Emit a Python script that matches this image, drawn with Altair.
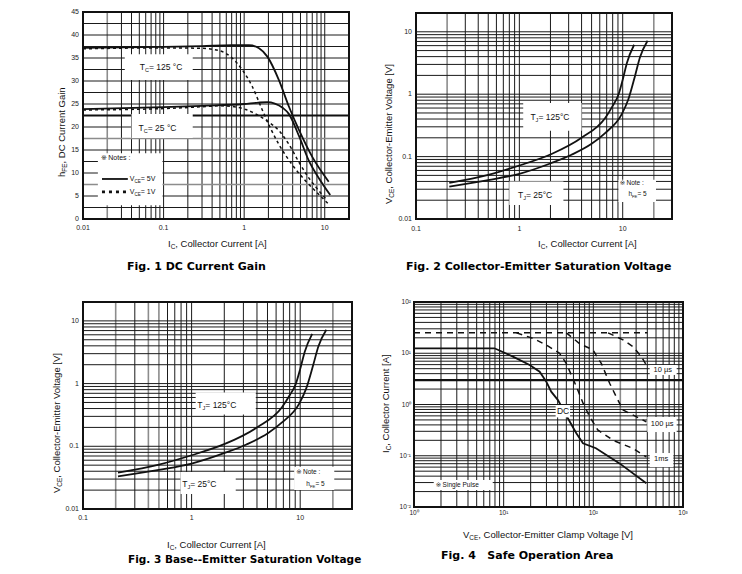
import altair as alt
import pandas as pd

CHART_W, CHART_H = 742, 574
SANS = "Liberation Sans, Noto Sans CJK JP, sans-serif"
MARK_FONT = "DejaVu Sans"
HEAVY = "DejaVu Sans"
INK = "#111111"
NBSP = "\u00a0"

# ---------------- Fig. 1 : DC current gain (hFE vs Ic) ----------------
HFE_IC_125_5V = [0.01, 0.1, 0.3, 0.7, 1.15, 1.53, 1.94, 2.7, 3.6, 4.8, 7.0, 11.2]
HFE_125_5V = [37.2, 37.4, 37.6, 37.8, 37.8, 37.1, 35.3, 30.2, 24.4, 19.3, 13.5, 8.1]
HFE_IC_25_5V = [0.01, 0.1, 0.3, 1.0, 1.5, 1.94, 2.4, 3.0, 3.6, 4.8, 6.3, 8.5, 11.7]
HFE_25_5V = [23.9, 24.3, 24.6, 25.0, 25.3, 25.4, 25.1, 24.2, 22.8, 18.0, 12.8, 8.8, 5.2]
HFE_IC_125_1V = [0.01, 0.1, 0.3, 0.49, 0.72, 0.95, 1.26, 1.68, 2.14, 2.7, 3.95, 5.76, 8.4, 11.5]
HFE_125_1V = [37.0, 37.2, 37.1, 36.6, 34.9, 32.4, 28.8, 23.7, 19.6, 16.2, 11.8, 8.3, 5.4, 3.0]
HFE_IC_25_1V = [0.01, 0.1, 0.3, 0.5, 0.75, 1.05, 1.4, 1.85, 2.7, 3.6, 4.8, 6.3, 8.4, 10.5]
HFE_25_1V = [23.7, 24.0, 24.4, 24.6, 24.4, 23.8, 22.8, 21.5, 19.2, 16.2, 12.3, 9.0, 6.2, 4.2]

# ---------------- Fig. 2 / Fig. 3 : saturation voltage (Vce vs Ic) ----------------
VCE_IC_125 = [0.21, 0.5, 1.0, 2.05, 4.0, 6.8, 8.0, 9.1, 10.0, 11.0, 12.9]
VCE_125 = [0.038, 0.051, 0.072, 0.11, 0.2, 0.42, 0.65, 0.98, 1.7, 3.2, 6.2]
VCE_IC_25 = [0.21, 0.5, 1.0, 2.05, 3.2, 5.0, 6.8, 9.8, 11.35, 13.2, 14.7, 17.4]
VCE_25 = [0.033, 0.042, 0.053, 0.079, 0.107, 0.16, 0.24, 0.48, 0.83, 2.0, 3.9, 7.2]

# ---------------- Fig. 4 : safe operating area ----------------
SOA_V_LIMIT = [1, 400]
SOA_I_LIMIT = [25, 25]
SOA_V_DC = [1, 7.9, 12.7, 19.5, 25.2, 29.9, 33.9, 40.3, 52, 64.6, 76.6, 107, 196, 390]
SOA_I_DC = [12.5, 12.5, 8.6, 5.9, 4.37, 2.79, 1.78, 1.22, 0.54, 0.275, 0.175, 0.14, 0.071, 0.029]
SOA_V_1MS = [13.9, 21.2, 29.9, 42, 50, 65, 77, 91, 112, 166, 275, 390]
SOA_I_1MS = [25, 19.5, 14.5, 10, 6.3, 2.2, 1.05, 0.58, 0.32, 0.2, 0.14, 0.095]
SOA_V_100US = [50, 70, 99, 123, 152, 180, 214, 300, 390]
SOA_I_100US = [25, 15.5, 11.6, 6.3, 2.6, 1.42, 0.78, 0.58, 0.46]
SOA_V_10US = [146, 214, 276, 343, 390]
SOA_I_10US = [25, 18.3, 13.5, 8.6, 5.9]

# ---------------- tick labels ----------------
F1_X_TICKS = [0.01, 0.1, 1, 10]
F1_Y_TICKS = [0, 5, 10, 15, 20, 25, 30, 35, 40, 45]
F2_X_TICKS = [0.1, 1, 10]
F2_Y_TICKS = [0.01, 0.1, 1, 10]
F4_X_TICKS = [1, 10, 100, 1000]
F4_X_LABELS = ["10⁰", "10¹", "10²", "10³"]
F4_Y_TICKS = [0.01, 0.1, 1, 10, 100]
F4_Y_LABELS = ["10⁻²", "10⁻¹", "10⁰", "10¹", "10²"]

# ---------------- panel geometry (pixel ranges of each plot area) ----------------
P1_X, P1_Y = [83, 349], [219, 12]
P2_X, P2_Y = [416, 672], [219, 13]
P3_X, P3_Y = [83, 352], [509, 302]
P4_X, P4_Y = [414, 683], [507, 302]

ONE = pd.DataFrame({"k": [0]})

# Arial-compatible advance widths (1/1000 em) used to chain text runs
ADV = {" ": 278, NBSP: 278, ",": 278, ".": 278, ":": 278, "-": 333, "=": 584, "[": 278,
       "]": 278, "°": 400, "µ": 576, "※": 1050, "A": 667, "C": 722, "D": 722, "E": 667,
       "F": 611, "G": 778, "I": 278, "J": 500, "S": 667, "T": 611, "V": 667, "P": 667,
       "a": 556, "c": 500, "e": 556, "g": 556, "h": 556, "i": 222, "l": 222, "m": 833,
       "n": 556, "o": 556, "p": 556, "r": 333, "s": 500, "t": 278, "u": 556, "v": 500}
for _d in "0123456789":
    ADV[_d] = 556


def text_width(s, size):
    return sum(ADV.get(ch, 556) for ch in s) * size / 1000.0


def rich(base, parts, angle=0, anchor="left"):
    """Chain runs of (text, size, baseline shift[, font]) so subscripts follow their letter."""
    total = sum(text_width(p[0], p[1]) for p in parts)
    offset = -total / 2 if anchor == "center" else 0.0
    layers = []
    for part in parts:
        txt, size, shift = part[:3]
        font = part[3] if len(part) > 3 else SANS
        layers.append(base.mark_text(text=txt.strip(), font=font, fontSize=size,
                                     color=INK, align="left", baseline="middle",
                                     angle=angle, dx=offset, dy=shift))
        offset += text_width(txt, size)
    return layers


def note(text, size=7):
    return [("※", size, 0, MARK_FONT), (text, size, 0)]


def log_values(lo, hi):
    vals = [float(f"{k}e{e}") for e in range(lo, hi) for k in range(1, 10)]
    vals.append(float(f"1e{hi}"))
    return vals


def grid_frame(values, heavy=(), light=()):
    rows = []
    for v in values:
        if any(abs(v - h) < 1e-9 for h in heavy):
            w, c = 2.2, INK
        elif any(abs(v - g) < 1e-9 for g in light):
            w, c = 1.6, "#8c8c8c"
        else:
            w, c = 1.0, "#1a1a1a"
        rows.append({"v": v, "w": w, "c": c})
    return pd.DataFrame(rows)


def lines_frame(series):
    rows = []
    for name, xv, yv in series:
        rows += [{"s": name, "x": a, "y": b} for a, b in zip(xv, yv)]
    return pd.DataFrame(rows)


def tick_labels(xs, ys, xdom, ydom, xticks, yticks, xlabels=None, ylabels=None,
                xpad=5, ypad=4, size=7):
    xl = xlabels or [f"{v:g}" for v in xticks]
    yl = ylabels or [f"{v:g}" for v in yticks]
    bottom = alt.Chart(pd.DataFrame({"v": xticks, "t": xl})).mark_text(
        font=SANS, fontSize=size, color="#222222", align="center", baseline="top", dy=xpad
    ).encode(x=alt.X("v:Q", scale=xs, axis=None),
             y=alt.YDatum(datum=ydom[0], type="quantitative", scale=ys, axis=None),
             text="t:N")
    left = alt.Chart(pd.DataFrame({"v": yticks, "t": yl})).mark_text(
        font=SANS, fontSize=size, color="#222222", align="right", baseline="middle", dx=-ypad
    ).encode(y=alt.Y("v:Q", scale=ys, axis=None),
             x=alt.XDatum(datum=xdom[0], type="quantitative", scale=xs, axis=None),
             text="t:N")
    return [bottom, left]


def panel(xs, ys, xdom, ydom, xgrid, ygrid, solid, dashed, dash, boxes, texts, ticks,
          interp="monotone", extra=()):
    vgrid = alt.Chart(xgrid).mark_rule().encode(
        x=alt.X("v:Q", scale=xs, axis=None),
        y=alt.YDatum(datum=ydom[0], type="quantitative", scale=ys, axis=None),
        y2=alt.Y2Datum(datum=ydom[1]),
        color=alt.Color("c:N", scale=None),
        strokeWidth=alt.StrokeWidth("w:Q", scale=None))
    hgrid = alt.Chart(ygrid).mark_rule().encode(
        y=alt.Y("v:Q", scale=ys, axis=None),
        x=alt.XDatum(datum=xdom[0], type="quantitative", scale=xs, axis=None),
        x2=alt.X2Datum(datum=xdom[1]),
        color=alt.Color("c:N", scale=None),
        strokeWidth=alt.StrokeWidth("w:Q", scale=None))
    solid_l = alt.Chart(lines_frame(solid)).mark_line(
        color=INK, strokeWidth=1.8, interpolate=interp).encode(
        x=alt.X("x:Q", scale=xs, axis=None),
        y=alt.Y("y:Q", scale=ys, axis=None),
        detail="s:N")
    layers = [vgrid, hgrid, solid_l]
    if dashed:
        layers.append(alt.Chart(lines_frame(dashed)).mark_line(
            color=INK, strokeWidth=1.5, strokeDash=dash, interpolate=interp).encode(
            x=alt.X("x:Q", scale=xs, axis=None),
            y=alt.Y("y:Q", scale=ys, axis=None),
            detail="s:N"))
    layers.append(alt.Chart(pd.DataFrame(boxes)).mark_rect(color="white").encode(
        x=alt.X("x1:Q", scale=xs, axis=None), x2="x2:Q",
        y=alt.Y("y1:Q", scale=ys, axis=None), y2="y2:Q"))
    layers += list(extra)
    for (x, y, parts, anchor) in texts:
        base = alt.Chart(pd.DataFrame({"x": [x], "y": [y]})).encode(
            x=alt.X("x:Q", scale=xs, axis=None), y=alt.Y("y:Q", scale=ys, axis=None))
        layers += rich(base, parts, anchor=anchor)
    layers.append(alt.Chart(ONE).mark_rect(fillOpacity=0, stroke=INK, strokeWidth=2).encode(
        x=alt.XDatum(datum=xdom[0], type="quantitative", scale=xs, axis=None),
        x2=alt.X2Datum(datum=xdom[1]),
        y=alt.YDatum(datum=ydom[0], type="quantitative", scale=ys, axis=None),
        y2=alt.Y2Datum(datum=ydom[1])))
    layers += ticks
    return alt.layer(*layers)


def tlabel(t, sub, rest, size=8.5):
    # the leading spaces of the last run only reserve room; the drawn text is stripped
    return [(t, size, 0), (sub, size * 0.65, 3), ("  " + rest, size, 0)]


# ---------------- Fig. 1 ----------------
F1_XDOM, F1_YDOM = [0.01, 20], [0, 45]
xs1 = alt.Scale(type="log", domain=F1_XDOM, range=P1_X, nice=False)
ys1 = alt.Scale(type="linear", domain=F1_YDOM, range=P1_Y, nice=False, zero=False)
F1_BOXES = {"x1": [0.033, 0.040, 0.0153], "x2": [0.23, 0.23, 0.097],
            "y1": [30.2, 17.6, 3.0], "y2": [35.8, 22.8, 14.3]}
F1_KEY_X = [0.0172, 0.036]
F1_KEY_SOLID_Y = [8.7, 8.7]
F1_KEY_DOT_Y = [5.9, 5.9]
key_solid = alt.Chart(pd.DataFrame({"x": F1_KEY_X, "y": F1_KEY_SOLID_Y})).mark_line(
    color=INK, strokeWidth=1.8).encode(x=alt.X("x:Q", scale=xs1, axis=None),
                                       y=alt.Y("y:Q", scale=ys1, axis=None))
key_dot = alt.Chart(pd.DataFrame({"x": F1_KEY_X, "y": F1_KEY_DOT_Y})).mark_line(
    color=INK, strokeWidth=2.6, strokeDash=[3, 4]).encode(
    x=alt.X("x:Q", scale=xs1, axis=None), y=alt.Y("y:Q", scale=ys1, axis=None))
F1_TEXTS = [
    (0.0506, 33.0, tlabel("T", "C", "= 125 °C"), "left"),
    (0.049, 19.8, tlabel("T", "C", "= 25 °C"), "left"),
    (0.0167, 13.3, note("Notes :"), "left"),
    (0.038, 8.7, tlabel("V", "CE", "= 5V", 7), "left"),
    (0.038, 5.9, tlabel("V", "CE", "= 1V", 7), "left"),
]
panel1 = panel(
    xs1, ys1, F1_XDOM, F1_YDOM,
    grid_frame(log_values(-2, 1) + [20], light=[0.02, 20]),
    grid_frame([i * 2.5 for i in range(19)], heavy=[22.5], light=[17.5, 7.5]),
    [("125C", HFE_IC_125_5V, HFE_125_5V), ("25C", HFE_IC_25_5V, HFE_25_5V)],
    [("125C", HFE_IC_125_1V, HFE_125_1V), ("25C", HFE_IC_25_1V, HFE_25_1V)],
    [3, 3], F1_BOXES, F1_TEXTS,
    tick_labels(xs1, ys1, F1_XDOM, F1_YDOM, F1_X_TICKS, F1_Y_TICKS, xpad=5, ypad=4),
    extra=[key_solid, key_dot])

# ---------------- Fig. 2 and Fig. 3 ----------------
F2_XDOM, F2_YDOM = [0.1, 30], [0.01, 20]
SAT_SERIES = [("125C", VCE_IC_125, VCE_125), ("25C", VCE_IC_25, VCE_25)]
SAT_XGRID = log_values(-1, 1) + [20, 30]
SAT_YGRID = log_values(-2, 1) + [20]

xs2 = alt.Scale(type="log", domain=F2_XDOM, range=P2_X, nice=False)
ys2 = alt.Scale(type="log", domain=F2_YDOM, range=P2_Y, nice=False)
F2_BOXES = {"x1": [1.09, 0.8, 9.1], "x2": [4.0, 2.67, 21],
            "y1": [0.26, 0.0168, 0.0188], "y2": [0.72, 0.04, 0.0426]}
F2_TEXTS = [
    (1.28, 0.43, tlabel("T", "J", "= 125°C"), "left"),
    (0.97, 0.0244, tlabel("T", "J", "= 25°C"), "left"),
    (9.35, 0.038, note("Note :", 6.5), "left"),
    (11.35, 0.0253, tlabel("h", "FE", "= 5", 6.5), "left"),
]
panel2 = panel(
    xs2, ys2, F2_XDOM, F2_YDOM,
    grid_frame(SAT_XGRID, light=[0.2, 20]), grid_frame(SAT_YGRID),
    SAT_SERIES, [], None, F2_BOXES, F2_TEXTS,
    tick_labels(xs2, ys2, F2_XDOM, F2_YDOM, F2_X_TICKS, F2_Y_TICKS, xpad=6, ypad=4))

xs3 = alt.Scale(type="log", domain=F2_XDOM, range=P3_X, nice=False)
ys3 = alt.Scale(type="log", domain=F2_YDOM, range=P3_Y, nice=False)
F3_BOXES = {"x1": [1.09, 0.79, 8.8], "x2": [3.9, 2.55, 20.6],
            "y1": [0.32, 0.0174, 0.020], "y2": [0.72, 0.039, 0.047]}
F3_TEXTS = [
    (1.13, 0.456, tlabel("T", "J", "= 125°C"), "left"),
    (0.82, 0.0254, tlabel("T", "J", "= 25°C"), "left"),
    (9.18, 0.039, note("Note :", 6.5), "left"),
    (11.4, 0.0254, tlabel("h", "FE", "= 5", 6.5), "left"),
]
panel3 = panel(
    xs3, ys3, F2_XDOM, F2_YDOM,
    grid_frame(SAT_XGRID, light=[0.2, 0.4, 0.5, 20]), grid_frame(SAT_YGRID),
    SAT_SERIES, [], None, F3_BOXES, F3_TEXTS,
    tick_labels(xs3, ys3, F2_XDOM, F2_YDOM, F2_X_TICKS, F2_Y_TICKS, xpad=5, ypad=4))

# ---------------- Fig. 4 ----------------
F4_XDOM, F4_YDOM = [1, 1000], [0.01, 100]
xs4 = alt.Scale(type="log", domain=F4_XDOM, range=P4_X, nice=False)
ys4 = alt.Scale(type="log", domain=F4_YDOM, range=P4_Y, nice=False)
F4_BOXES = {"x1": [425, 400, 425, 38, 1.66], "x2": [850, 850, 780, 55, 7.55],
            "y1": [3.77, 0.29, 0.060, 0.56, 0.0215], "y2": [5.9, 0.57, 0.113, 0.977, 0.0337]}
F4_TEXTS = [
    (594, 4.7, [("10 µs", 7.5, 0)], "center"),
    (585, 0.41, [("100 µs", 7.5, 0)], "center"),
    (570, 0.0865, [("1ms", 7.5, 0)], "center"),
    (46, 0.746, [("DC", 8.5, 0)], "center"),
    (1.75, 0.027, note("Single Pulse", 6.5), "left"),
]
panel4 = panel(
    xs4, ys4, F4_XDOM, F4_YDOM,
    grid_frame(log_values(0, 3), light=[200]),
    grid_frame(log_values(-2, 2), heavy=[3]),
    [("DC", SOA_V_DC, SOA_I_DC)],
    [("limit", SOA_V_LIMIT, SOA_I_LIMIT), ("1ms", SOA_V_1MS, SOA_I_1MS),
     ("100us", SOA_V_100US, SOA_I_100US), ("10us", SOA_V_10US, SOA_I_10US)],
    [6, 5], F4_BOXES, F4_TEXTS,
    tick_labels(xs4, ys4, F4_XDOM, F4_YDOM, F4_X_TICKS, F4_Y_TICKS,
                xlabels=F4_X_LABELS, ylabels=F4_Y_LABELS, xpad=3, ypad=3, size=6.5),
    interp="linear")

# ---------------- axis titles and figure captions ----------------
def px_text(x, y, parts, angle=0):
    base = alt.Chart(ONE).encode(x=alt.value(x), y=alt.value(y))
    return rich(base, parts, angle=angle)


def ax_title(t, sub, rest, size=9.5):
    return [(t, size, 0), (sub, size * 0.68, 3), (rest, size, 0)]


AXIS_TITLES = [
    (168, 244, ax_title("I", "C", ", Collector Current [A]"), 0),
    (62, 177, ax_title("h", "FE", ", DC Current Gain"), 270),
    (538, 244, ax_title("I", "C", ", Collector Current [A]"), 0),
    (389, 204, ax_title("V", "CE", ", Collector-Emitter Voltage [V]"), 270),
    (167, 545, ax_title("I", "C", ", Collector Current [A]"), 0),
    (57, 493, ax_title("V", "CE", ", Collector-Emitter Voltage [V]"), 270),
    (463, 535, ax_title("V", "CE", ", Collector-Emitter Clamp Voltage [V]"), 0),
    (386, 453, ax_title("I", "C", ", Collector Current [A]"), 270),
]
CAPTIONS = [
    (127, 267, 11, "Fig. 1 DC Current Gain"),
    (406, 267, 11, "Fig. 2 Collector-Emitter Saturation Voltage"),
    (128, 560, 10.5, "Fig. 3 Base--Emitter Saturation Voltage"),
    (441, 556, 11, "Fig. 4   Safe Operation Area"),
]

decor = []
for x, y, parts, ang in AXIS_TITLES:
    decor += px_text(x, y, parts, angle=ang)
for x, y, size, txt in CAPTIONS:
    decor.append(alt.Chart(ONE).mark_text(
        text=txt.replace(" ", NBSP), font=HEAVY, fontSize=size, fontWeight="bold",
        color="#000000", align="left", baseline="middle").encode(
        x=alt.value(x), y=alt.value(y)))

chart = alt.layer(panel1, panel2, panel3, panel4, *decor).resolve_scale(
    x="independent", y="independent"
).properties(
    width=CHART_W, height=CHART_H,
    autosize=alt.AutoSizeParams(type="none"), padding=0,
    background="white",
).configure_view(stroke=None)

chart.save("out.html", embed_options={"renderer": "svg", "actions": False})
